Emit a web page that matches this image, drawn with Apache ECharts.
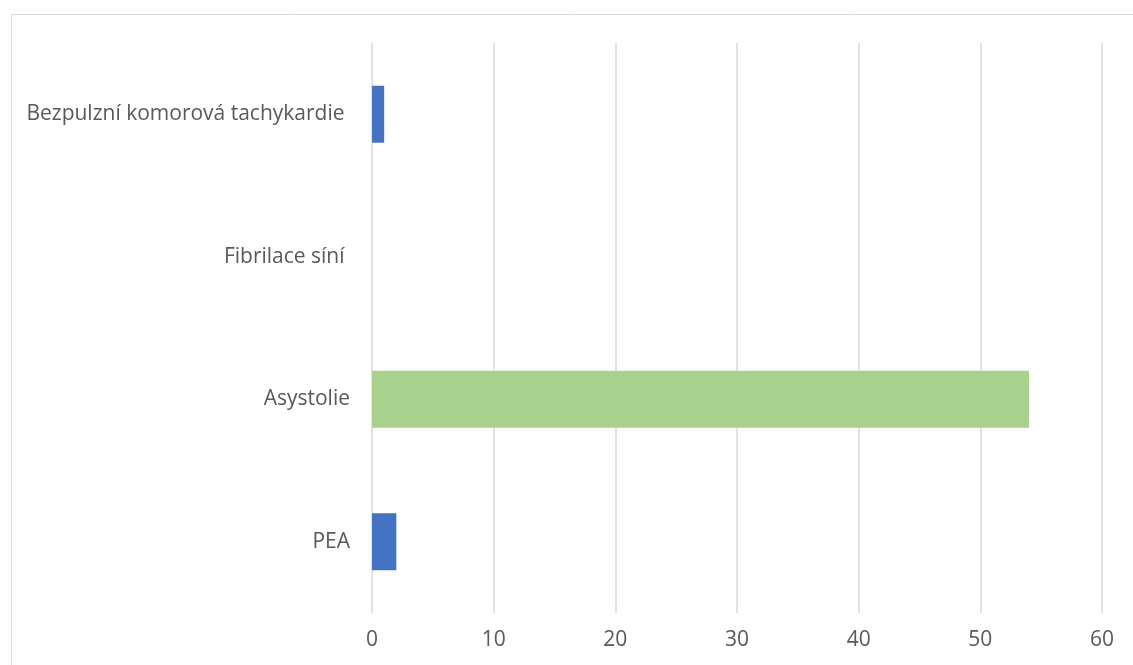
<!DOCTYPE html>
<html>
<head>
<meta charset="utf-8">
<script src="https://cdn.jsdelivr.net/npm/echarts@6/dist/echarts.min.js"></script>
<style>
html,body{margin:0;padding:0;background:#fff;}
#chart{width:1133px;height:665px;}
</style>
</head>
<body>
<div id="chart"></div>
<script>
const categories = ['PEA', 'Asystolie', 'Fibrilace síní ', 'Bezpulzní komorová tachykardie '];
const values = [2, 54, 0, 1];
const barColors = ['#4472C4', '#A9D18E', '#4472C4', '#4472C4'];
const xTicks = [0, 10, 20, 30, 40, 50, 60];

const chart = echarts.init(document.getElementById('chart'));
chart.setOption({
  animation: false,
  backgroundColor: '#ffffff',
  graphic: [{
    type: 'rect',
    shape: { x: 11.5, y: 14.5, width: 1200, height: 700 },
    style: { fill: 'none', stroke: '#D9D9D9', lineWidth: 1 },
    silent: true
  }],
  grid: { left: 372, right: 31, top: 43, bottom: 52, containLabel: false },
  xAxis: {
    type: 'value',
    min: xTicks[0],
    max: xTicks[xTicks.length - 1],
    interval: 10,
    axisLine: { show: false },
    axisTick: { show: false },
    splitLine: { show: true, lineStyle: { color: '#D9D9D9', width: 1.5 } },
    axisLabel: { color: '#595959', fontSize: 21, fontFamily: 'Open Sans', margin: 17 }
  },
  yAxis: {
    type: 'category',
    data: categories,
    axisLine: { show: false },
    axisTick: { show: false },
    axisLabel: { color: '#595959', fontSize: 21, fontFamily: 'Open Sans', margin: 22 }
  },
  series: [{
    type: 'bar',
    data: values.map((v, i) => ({ value: v, itemStyle: { color: barColors[i] } })),
    barCategoryGap: '60%'
  }]
});
</script>
</body>
</html>
